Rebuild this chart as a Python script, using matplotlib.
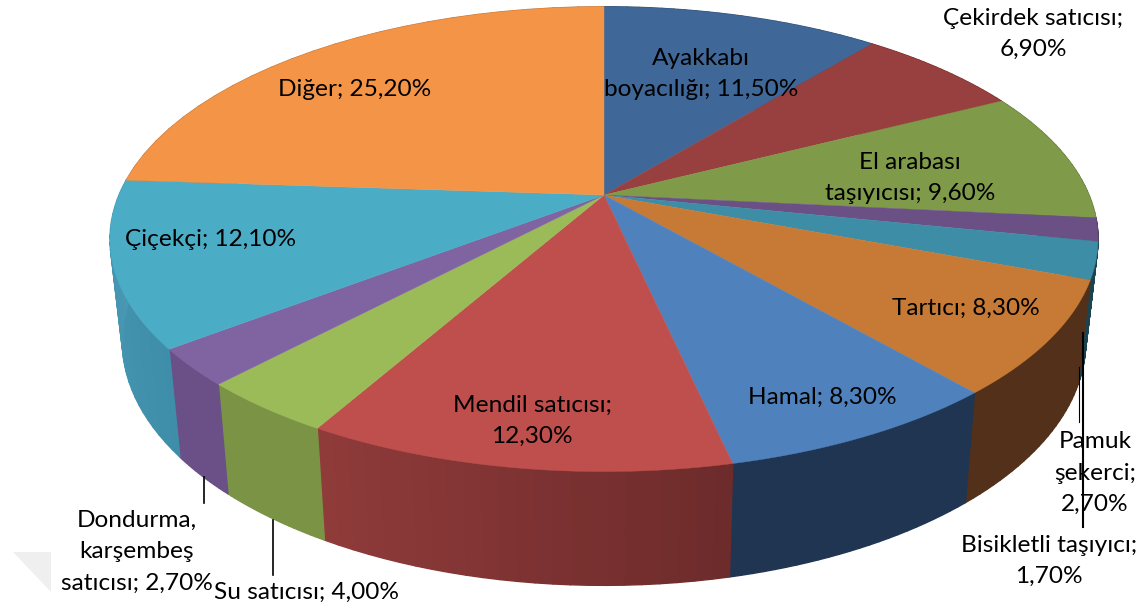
import numpy as np
import matplotlib
matplotlib.use('Agg')
import matplotlib.pyplot as plt
from matplotlib.collections import PolyCollection
from matplotlib.colors import to_rgb

plt.rcParams['font.family'] = ['Lato', 'DejaVu Sans']

names = ['Ayakkabı', 'Çekirdek', 'El arabası', 'Bisikletli', 'Pamuk',
         'Tartıcı', 'Hamal', 'Mendil', 'Su', 'Dondurma', 'Çiçekçi', 'Diğer']
values = [11.5, 6.9, 9.6, 1.7, 2.7, 8.3, 8.3, 12.3, 4.0, 2.7, 12.1, 25.2]
top_colors = ['#3f6797', '#983f3f', '#7f9a48', '#6a5085', '#3c8da5', '#c77a35',
              '#4f81bd', '#bf4f4d', '#9bbb59', '#8064a2', '#4bacc6', '#f49447']
side_start = ['#2f4d70', '#722f2f', '#5f7336', '#4f3c64', '#1c4450', '#52301a',
              '#1f3552', '#6e2b2b', '#7a9345', '#6b5088', '#3f8ea9', '#b87035']
side_end = ['#2f4d70', '#722f2f', '#5f7336', '#4f3c64', '#1c4450', '#52301a',
            '#1f3552', '#8f3b3a', '#7a9345', '#6b5088', '#4a9ab5', '#b87035']
labels = [
    ('Ayakkabı\nboyacılığı; 11,50%', 701, 74),
    ('Çekirdek satıcısı;\n6,90%', 1033, 34),
    ('El arabası\ntaşıyıcısı; 9,60%', 910, 178),
    ('Tartıcı; 8,30%', 966, 308),
    ('Hamal; 8,30%', 822, 397),
    ('Mendil satıcısı;\n12,30%', 532, 421),
    ('Çiçekçi; 12,10%', 211, 240),
    ('Diğer; 25,20%', 355, 89),
    ('Pamuk\nşekerci;\n2,70%', 1095, 473),
    ('Bisikletli taşıyıcı;\n1,70%', 1049, 561),
    ('Dondurma,\nkarşembeş\nsatıcısı; 2,70%', 137, 552),
    ('Su satıcısı; 4,00%', 307, 592),
]
# x, y from, y to, width
leaders = [(1079, 367, 422, 0.8), (1083, 333, 527, 1.5), (204, 477, 503, 1.2), (273, 520, 575, 1.2)]

cx, cy = 604, 195
rx, ry, k = 485, 224, 0.19
shrink_x, shrink_y, drop = 0.975, 1.05, 100


def top_xy(theta):
    # circle seen in perspective, theta clockwise from 12 o'clock
    d = 1 + k * np.cos(theta)
    return cx + rx * np.sin(theta) / d, cy - ry * np.cos(theta) / d


def bottom_xy(theta):
    x, y = top_xy(theta)
    return cx + (x - cx) * shrink_x, cy + (y - cy) * shrink_y + drop


fig = plt.figure(figsize=(11.48, 6.12), dpi=100)
ax = fig.add_axes([0, 0, 1, 1])
ax.set_xlim(0, 1148)
ax.set_ylim(612, 0)
ax.axis('off')

# faint watermark corner
ax.fill([13, 51, 51], [552, 552, 592], color='#efefef', lw=0, zorder=0)

edges = np.concatenate([[0], np.cumsum(values)]) / sum(values) * 2 * np.pi

# sides first, top faces go over them
for i in range(len(values)):
    t = np.linspace(edges[i], edges[i + 1], 25)
    x0, y0 = top_xy(t)
    x1, y1 = bottom_xy(t)
    quads = []
    cols = []
    for j in range(len(t) - 1):
        quads.append([(x0[j], y0[j]), (x0[j + 1], y0[j + 1]), (x1[j + 1], y1[j + 1]), (x1[j], y1[j])])
        f = j / (len(t) - 2)
        cols.append(np.array(to_rgb(side_start[i])) * (1 - f) + np.array(to_rgb(side_end[i])) * f)
    ax.add_collection(PolyCollection(quads, facecolors=cols, edgecolors=cols, linewidths=1.0, zorder=1))

for i in range(len(values)):
    t = np.linspace(edges[i], edges[i + 1], 120)
    x, y = top_xy(t)
    ax.fill(np.r_[cx, x], np.r_[cy, y], color=top_colors[i], lw=0.3, zorder=2)

for x, y0, y1, w in leaders:
    ax.plot([x, x], [y0, y1], color='black', lw=w, zorder=3)

for text, x, y in labels:
    ax.text(x, y, text, ha='center', va='center', fontsize=17.6, color='black',
            linespacing=1.62, zorder=4)

fig.savefig('out.png', dpi=100)
